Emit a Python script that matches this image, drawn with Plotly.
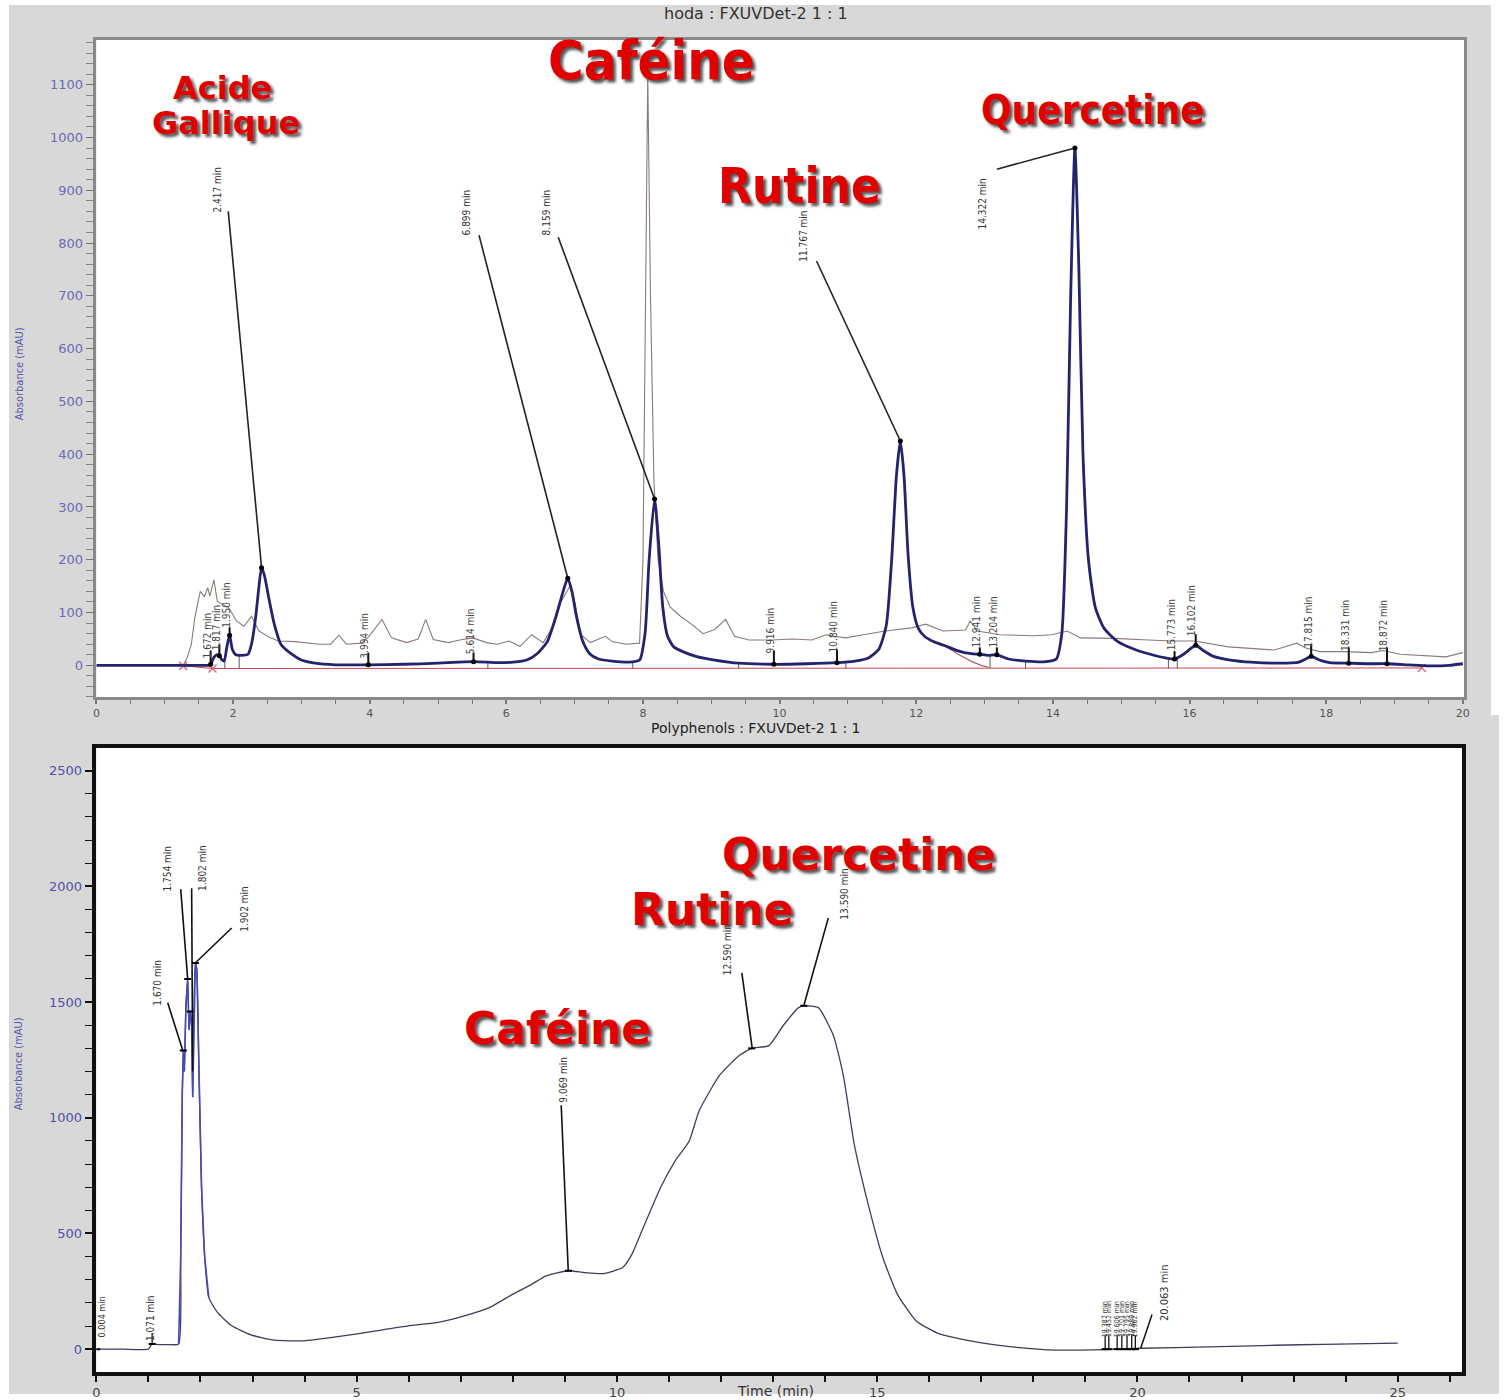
import numpy as np
import plotly.graph_objects as go

W, H = 1505, 1400

# ---------------- top chromatogram : hoda (sample, blue) ----------------
hoda_time = [0, 1.0, 1.5, 1.65, 1.672, 1.72, 1.76, 1.80, 1.84, 1.87, 1.91, 1.95, 1.99, 2.04, 2.12,
             2.22, 2.27, 2.33, 2.38, 2.417, 2.46, 2.52, 2.6, 2.7, 2.85, 3.0, 3.2, 3.5, 3.98, 4.5,
             5.0, 5.3, 5.52, 5.9, 6.1, 6.3, 6.45, 6.6, 6.72, 6.82, 6.899, 6.96, 7.03, 7.12, 7.22,
             7.35, 7.55, 7.8, 7.95, 8.03, 8.09, 8.17, 8.23, 8.29, 8.36, 8.45, 8.6, 8.8, 9.05, 9.4,
             9.916, 10.4, 10.84, 11.1, 11.3, 11.45, 11.56, 11.64, 11.71, 11.767, 11.82, 11.88,
             11.95, 12.03, 12.12, 12.25, 12.4, 12.6, 12.8, 12.93, 13.05, 13.18, 13.35, 13.6, 13.9,
             14.05, 14.13, 14.2, 14.26, 14.322, 14.38, 14.44, 14.52, 14.62, 14.75, 14.95, 15.2,
             15.45, 15.65, 15.78, 15.9, 16.02, 16.09, 16.2, 16.35, 16.6, 16.9, 17.3, 17.6, 17.7,
             17.78, 17.9, 18.05, 18.33, 18.6, 18.89, 19.2, 19.5, 19.8, 20.0]
hoda_abs = [0, 0, 0, 0, 2, 15, 20, 18, 10, 8, 35, 57, 30, 20, 19,
            21, 40, 90, 150, 185, 170, 130, 80, 40, 22, 10, 4, 1, 1, 2,
            4, 6, 7, 5, 6, 10, 22, 45, 90, 135, 165, 140, 90, 45, 22,
            12, 8, 6, 10, 60, 200, 315, 230, 110, 55, 35, 25, 16, 10, 4,
            2, 3, 5, 8, 14, 30, 75, 200, 360, 425, 360, 210,
            110, 70, 55, 45, 38, 28, 22, 21, 19, 20, 12, 8, 7,
            12, 60, 300, 700, 980, 750, 400, 200, 110, 70, 45, 30,
            20, 14, 12, 20, 32, 38, 28, 17, 10, 6, 4, 6, 12,
            17, 10, 5, 4, 3, 3, 1, -1, 0, 3]

# ---------------- top chromatogram : standard overlay (grey) ----------------
std_time = [0, 1.22, 1.27, 1.33, 1.39, 1.44, 1.52, 1.58, 1.63, 1.66, 1.72, 1.77, 1.85, 1.94, 2.05,
            2.16, 2.27, 2.38, 2.55, 2.66, 2.9, 3.1, 3.27, 3.43, 3.55, 3.66, 3.88, 3.99, 4.08, 4.18,
            4.32, 4.54, 4.71, 4.82, 4.93, 5.15, 5.32, 5.51, 5.71, 5.87, 6.04, 6.2, 6.37, 6.54, 6.7,
            6.8, 6.93, 7.0, 7.09, 7.23, 7.45, 7.55, 7.75, 7.95, 8.0, 8.04, 8.07, 8.11, 8.16, 8.22,
            8.3, 8.4, 8.54, 8.71, 8.88, 9.05, 9.21, 9.34, 9.55, 9.88, 10.2, 10.47, 10.68, 10.8,
            10.97, 11.22, 11.55, 11.93, 12.14, 12.39, 12.72, 12.79, 12.89, 13.23, 13.73, 13.98,
            14.21, 14.4, 14.9, 15.4, 15.73, 16.07, 16.57, 17.24, 17.57, 17.7, 17.91, 18.24, 18.66,
            18.83, 19.08, 19.75, 19.96, 20.0]
std_abs = [0, 0, 0, 15, 40, 90, 140, 130, 147, 131, 162, 121, 115, 109, 84,
           74, 93, 65, 52, 46, 45, 43, 40, 40, 57, 40, 42, 55, 70, 87,
           52, 43, 50, 87, 49, 43, 48, 52, 43, 40, 46, 36, 58, 43, 77,
           120, 150, 120, 58, 43, 55, 45, 40, 42, 200, 700, 1120, 700, 350, 200,
           140, 110, 94, 78, 60, 68, 87, 55, 48, 48, 50, 48, 58, 55,
           52, 58, 65, 71, 78, 65, 67, 84, 65, 58, 56, 58,
           65, 52, 51, 48, 46, 46, 35, 29, 42, 33, 26, 26, 24,
           28, 21, 16, 23, 24]

# integration baseline / fitted tail (red, pink)
base_time = [1.27, 1.70, 19.40]
base_abs = [-1, -6, -5]
tail_time = [12.39, 12.6, 12.8, 12.95, 13.06]
tail_abs = [40, 22, 8, 0, -4]
drop_time = [1.88, 2.09, 5.73, 7.85, 9.4, 10.97, 13.08, 13.6, 15.69, 15.82]

# big peak labels (top)
top_lab_text = ["2.417 min", "6.899 min", "8.159 min", "11.767 min", "14.322 min"]
top_lab_x = [1.77, 5.41, 6.58, 10.35, 12.97]
top_lab_y = [902, 858, 858, 813, 874]
top_lead_x = [1.93, 5.60, 6.76, 10.54, 13.18]
top_lead_y = [860, 815, 811, 766, 940]
top_peak_t = [2.417, 6.899, 8.17, 11.767, 14.322]
top_peak_h = [185, 165, 315, 425, 980]

# small peak labels (top)
sm_text = ["1.672 min", "1.817 min", "1.950 min", "3.994 min", "5.614 min", "9.916 min",
           "10.840 min", "12.941 min", "13.204 min", "15.773 min", "16.102 min",
           "17.815 min", "18.331 min", "18.872 min"]
sm_pos = [1.672, 1.80, 1.95, 3.98, 5.52, 9.916, 10.84, 12.93, 13.18, 15.78, 16.09, 17.78, 18.33, 18.89]
sm_height = [2, 18, 57, 1, 7, 2, 5, 21, 20, 12, 38, 17, 4, 3]
sm_label_y = [57, 72, 115, 56, 65, 67, 73, 82, 82, 76, 103, 82, 75, 75]
sm_tick_top = [28, 40, 72, 24, 24, 28, 30, 34, 34, 27, 59, 40, 34, 34]

# compound names (top)
top_names = ["Acide", "Gallique", "Caféine", "Rutine", "Quercetine"]
top_names_x = [1.846, 1.89, 8.125, 10.29, 14.59]
top_names_y = [1094, 1028, 1145, 908, 1053]
top_names_size = [32, 32, 54, 49, 40]

# ---------------- bottom chromatogram : Polyphenols ----------------
poly_time = [0, 0.5, 1.0, 1.03, 1.071, 1.2, 1.4, 1.58, 1.62, 1.65, 1.67, 1.69, 1.72, 1.754, 1.78,
             1.802, 1.83, 1.85, 1.88, 1.902, 1.93, 1.97, 2.02, 2.08, 2.16, 2.33, 2.6, 2.97, 3.42,
             3.97, 4.43, 4.98, 5.53, 5.99, 6.54, 7.0, 7.55, 8.0, 8.37, 8.64, 9.069, 9.38, 9.74,
             10.11, 10.29, 10.48, 10.84, 11.12, 11.39, 11.58, 11.97, 12.35, 12.59, 12.92, 13.2,
             13.49, 13.59, 13.87, 14.16, 14.35, 14.56, 14.83, 15.11, 15.39, 15.75, 16.21, 16.95,
             17.68, 18.42, 19.34, 20.07, 21.36, 22.65, 23.57, 25.0]
poly_abs = [0, 0, 0, 10, 22, 20, 20, 22, 400, 1100, 1290, 1200, 1480, 1600, 1380,
            1460, 1400, 1090, 1550, 1669, 1640, 1200, 700, 400, 223, 158, 101, 62, 39,
            36, 48, 65, 85, 101, 115, 140, 180, 238, 281, 317, 339, 331, 327,
            353, 411, 512, 699, 814, 900, 1030, 1183, 1269, 1300, 1312, 1400,
            1476, 1484, 1476, 1355, 1183, 885, 624, 395, 237, 122, 65, 29,
            8, -4, -2, 4, 10, 17, 21, 26]

bot_lab_text = ["1.670 min", "1.754 min", "1.802 min", "1.902 min", "9.069 min", "12.590 min", "13.590 min"]
bot_lab_x = [1.18, 1.36, 2.04, 2.83, 8.97, 12.12, 14.37]
bot_lab_y = [1583, 2078, 2078, 1902, 1166, 1725, 1966]
bot_lead_x0 = [1.37, 1.62, 1.83, 2.60, 8.93, 12.40, 14.06]
bot_lead_y0 = [1497, 1988, 1992, 1820, 1054, 1626, 1863]
bot_lead_x1 = [1.66, 1.754, 1.85, 1.90, 9.065, 12.60, 13.59]
bot_lead_y1 = [1291, 1600, 1200, 1669, 339, 1300, 1484]
bot_mark_t = [0.004, 1.071, 1.670, 1.754, 1.802, 1.902, 9.069, 12.59, 13.59]
bot_mark_h = [0, 22, 1291, 1600, 1459, 1669, 339, 1300, 1484]

cluster_text = ["19.387 min", "19.452 min", "19.606 min", "19.701 min", "19.795 min", "19.889 min", "19.962 min"]
cluster_pos = [19.38, 19.45, 19.61, 19.70, 19.80, 19.89, 19.96]

bot_names = ["Quercetine", "Rutine", "Caféine"]
bot_names_x = [14.64, 11.83, 8.85]
bot_names_y = [2139, 1902, 1386]

# ====================================================================
fig = go.Figure()

NAVY = "#24246c"
GREY = "#8a7a7a"

def seg_trace(x0s, y0s, x1s, y1s, color, width, xa="x", ya="y"):
    xs, ys = [], []
    for a, b, c, d in zip(x0s, y0s, x1s, y1s):
        xs += [a, c, None]
        ys += [b, d, None]
    return go.Scatter(x=xs, y=ys, mode="lines", line=dict(color=color, width=width),
                      xaxis=xa, yaxis=ya, hoverinfo="skip")

# top traces
fig.add_trace(go.Scatter(x=std_time, y=std_abs, mode="lines", line=dict(color=GREY, width=1.1),
                         xaxis="x", yaxis="y"))
fig.add_trace(go.Scatter(x=base_time, y=base_abs, mode="lines+markers",
                         line=dict(color="#c84848", width=1),
                         marker=dict(symbol="x-thin", size=8, line=dict(color="#e06a8a", width=1.5)),
                         xaxis="x", yaxis="y"))
fig.add_trace(go.Scatter(x=tail_time, y=tail_abs, mode="lines", line=dict(color="#b85c6c", width=1.2),
                         xaxis="x", yaxis="y"))
drop_top = list(np.interp(drop_time, hoda_time, hoda_abs))
fig.add_trace(seg_trace(drop_time, [-6] * len(drop_time), drop_time, drop_top, "#5a5a5a", 1))
fig.add_trace(go.Scatter(x=hoda_time, y=hoda_abs, mode="lines",
                         line=dict(color=NAVY, width=2.8, shape="spline", smoothing=0.6),
                         xaxis="x", yaxis="y"))
fig.add_trace(seg_trace(top_lead_x, top_lead_y, top_peak_t, top_peak_h, "#222", 1.6))
fig.add_trace(seg_trace(sm_pos, sm_height, sm_pos, sm_tick_top, "#111", 2))
fig.add_trace(go.Scatter(x=top_peak_t + sm_pos, y=top_peak_h + sm_height, mode="markers",
                         marker=dict(color="black", size=5), xaxis="x", yaxis="y"))

# bottom traces
fig.add_trace(go.Scatter(x=poly_time, y=poly_abs, mode="lines",
                         line=dict(color="#3d3d60", width=1.3, shape="spline", smoothing=0.5),
                         xaxis="x2", yaxis="y2"))
spike = [(t, v) for t, v in zip(poly_time, poly_abs) if 1.55 <= t <= 2.2]
fig.add_trace(go.Scatter(x=[s[0] for s in spike], y=[s[1] for s in spike], mode="lines",
                         line=dict(color="#4a4ab4", width=1.6), xaxis="x2", yaxis="y2"))
fig.add_trace(seg_trace(bot_lead_x0, bot_lead_y0, bot_lead_x1, bot_lead_y1, "#111", 1.6, "x2", "y2"))
fig.add_trace(seg_trace(cluster_pos + [1.071], [0] * len(cluster_pos) + [22],
                        cluster_pos + [1.071], [60] * len(cluster_pos) + [70], "#111", 1.3, "x2", "y2"))
fig.add_trace(seg_trace([20.28], [150], [20.063], [4], "#111", 1.5, "x2", "y2"))
fig.add_trace(go.Scatter(x=bot_mark_t + cluster_pos, y=bot_mark_h + [0] * len(cluster_pos), mode="markers",
                         marker=dict(color="black", size=5, symbol="line-ew-open",
                                     line=dict(color="black", width=2)),
                         xaxis="x2", yaxis="y2"))

ann = []
LBL_FONT = "Liberation Sans Narrow, DejaVu Sans Condensed, Arial Narrow, sans-serif"
LBL_SIZE = 10
for t, x, y in zip(top_lab_text, top_lab_x, top_lab_y):
    ann.append(dict(x=x, y=y, xref="x", yref="y", text=t, showarrow=False, textangle=-90,
                    font=dict(family=LBL_FONT, size=LBL_SIZE, color="#333")))
for t, x, y in zip(sm_text, sm_pos, sm_label_y):
    ann.append(dict(x=x - 0.05, y=y, xref="x", yref="y", text=t, showarrow=False, textangle=-90,
                    font=dict(family=LBL_FONT, size=LBL_SIZE, color="#444")))
for i, (t, x, y) in enumerate(zip(top_names, top_names_x, top_names_y)):
    fam = "DejaVu Sans, sans-serif" if i < 2 else "DejaVu Sans Condensed, Liberation Sans Narrow, DejaVu Sans"
    ann.append(dict(x=x, y=y, xref="x", yref="y", text=t, showarrow=False,
                    font=dict(family=fam, size=top_names_size[i], color="#e00000", weight="bold",
                              shadow="3px 3px 3px #555")))
for t, x, y in zip(bot_lab_text, bot_lab_x, bot_lab_y):
    ann.append(dict(x=x, y=y, xref="x2", yref="y2", text=t, showarrow=False, textangle=-90,
                    font=dict(family=LBL_FONT, size=LBL_SIZE, color="#333")))
for t, x in zip(cluster_text, cluster_pos):
    ann.append(dict(x=x, y=130, xref="x2", yref="y2", text=t, showarrow=False, textangle=-90,
                    font=dict(family=LBL_FONT, size=7, color="#333")))
ann.append(dict(x=20.53, y=243, xref="x2", yref="y2", text="20.063 min", showarrow=False, textangle=-90,
                font=dict(family=LBL_FONT, size=11, color="#333")))
ann.append(dict(x=1.05, y=135, xref="x2", yref="y2", text="1.071 min", showarrow=False, textangle=-90,
                font=dict(family=LBL_FONT, size=10, color="#333")))
ann.append(dict(x=0.1, y=140, xref="x2", yref="y2", text="0.004 min", showarrow=False, textangle=-90,
                font=dict(family=LBL_FONT, size=9, color="#333")))
for t, x, y in zip(bot_names, bot_names_x, bot_names_y):
    ann.append(dict(x=x, y=y, xref="x2", yref="y2", text=t, showarrow=False,
                    font=dict(family="DejaVu Sans, sans-serif", size=44, color="#e00000", weight="bold",
                              shadow="3px 3px 3px #555")))

# titles
def pann(px, py, text, size, color, family="DejaVu Sans, sans-serif", angle=0):
    return dict(x=px / W, y=1 - py / H, xref="paper", yref="paper", text=text, showarrow=False,
                xanchor="center", yanchor="middle",
                textangle=angle, font=dict(family=family, size=size, color=color))

ann.append(pann(757, 14, "hoda : FXUVDet-2 1 : 1", 16, "#333"))
ann.append(pann(757, 731, "Polyphenols : FXUVDet-2 1 : 1", 14, "#222"))
ann.append(pann(15, 375, "Absorbance (mAU)", 11, "#5656aa", LBL_FONT, -90))
ann.append(pann(15, 1068, "Absorbance (mAU)", 11, "#5656aa", LBL_FONT, -90))
ann.append(pann(777, 1397, "Time (min)", 14, "#333"))

GRAY_BG = "#d8d8d8"
shapes = [
    dict(type="rect", xref="paper", yref="paper", x0=5 / W, x1=1497 / W, y0=1 - 718 / H, y1=1 - 5 / H,
         fillcolor=GRAY_BG, line=dict(width=0), layer="below"),
    dict(type="rect", xref="paper", yref="paper", x0=5 / W, x1=1, y0=0, y1=1 - 718 / H,
         fillcolor=GRAY_BG, line=dict(width=0), layer="below"),
    dict(type="rect", xref="paper", yref="paper", x0=93 / W, x1=1470 / W, y0=1 - 700 / H, y1=1 - 40 / H,
         fillcolor="white", line=dict(width=0), layer="below"),
    dict(type="rect", xref="paper", yref="paper", x0=93 / W, x1=1468 / W, y0=1 - 1378 / H, y1=1 - 751 / H,
         fillcolor="white", line=dict(width=0), layer="below"),
]

fig.update_layout(
    width=W, height=H, margin=dict(l=0, r=0, t=0, b=0),
    paper_bgcolor="white", plot_bgcolor="rgba(0,0,0,0)", showlegend=False,
    annotations=ann, shapes=shapes,
    xaxis=dict(domain=[93 / W, 1470 / W], range=[0, 20.02], anchor="y", tick0=0, dtick=2,
               ticks="outside", ticklen=4, tickwidth=1.5, tickcolor="#777",
               showline=True, linecolor="#8a8a8a", linewidth=2.5, mirror=True,
               showgrid=False, zeroline=False,
               tickfont=dict(family="DejaVu Sans, sans-serif", size=11, color="#555"),
               minor=dict(dtick=0.5, tick0=0, ticks="outside", ticklen=4, tickcolor="#777", tickwidth=1.2)),
    yaxis=dict(domain=[1 - 700 / H, 1 - 40 / H], range=[-60, 1185], anchor="x", tick0=0, dtick=100,
               ticks="outside", ticklen=8, tickwidth=1.2, tickcolor="#777",
               showline=True, linecolor="#8a8a8a", linewidth=2.5, mirror=True,
               showgrid=False, zeroline=False,
               tickfont=dict(family="DejaVu Sans, sans-serif", size=13, color="#6a6ab4"),
               minor=dict(dtick=20, tick0=0, ticks="outside", ticklen=8, tickcolor="#888", tickwidth=1)),
    xaxis2=dict(domain=[93 / W, 1468 / W], range=[0, 26.24], anchor="y2", tick0=0, dtick=5,
                ticks="outside", ticklen=6, tickwidth=1.5, tickcolor="#111",
                showline=True, linecolor="#111", linewidth=3.5, mirror=True,
                showgrid=False, zeroline=False,
                tickfont=dict(family="DejaVu Sans, sans-serif", size=13, color="#444"),
                minor=dict(dtick=1, tick0=0, ticks="outside", ticklen=6, tickcolor="#111", tickwidth=1.5)),
    yaxis2=dict(domain=[1 - 1378 / H, 1 - 751 / H], range=[-99, 2599], anchor="x2", tick0=0, dtick=500,
                ticks="outside", ticklen=8, tickwidth=1.5, tickcolor="#111",
                showline=True, linecolor="#111", linewidth=3.5, mirror=True,
                showgrid=False, zeroline=False,
                tickfont=dict(family="DejaVu Sans, sans-serif", size=13, color="#5050a8"),
                minor=dict(dtick=100, tick0=0, ticks="outside", ticklen=8, tickcolor="#111", tickwidth=1.2)),
)

fig.write_html("out.html")
